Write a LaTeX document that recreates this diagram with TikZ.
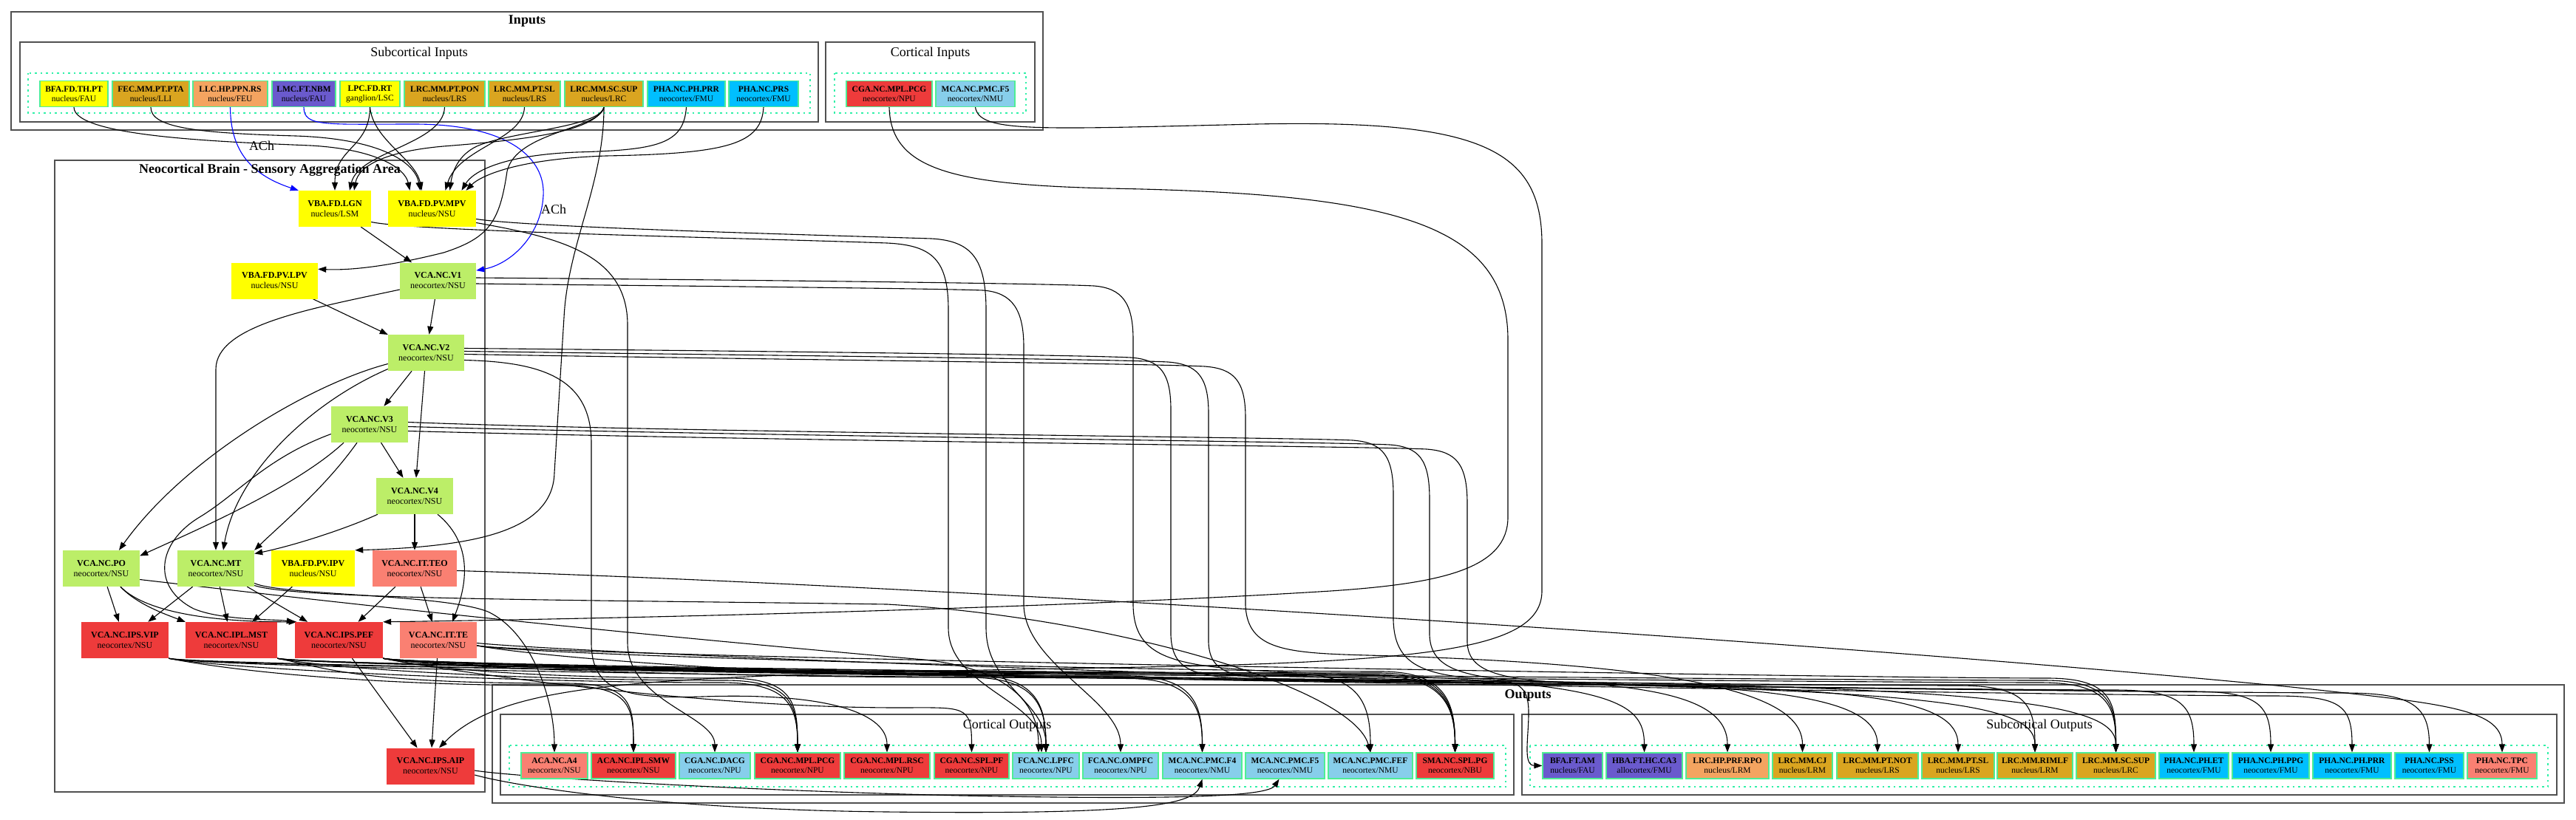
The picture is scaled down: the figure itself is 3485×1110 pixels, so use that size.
\documentclass[tikz,border=0pt]{standalone}
\usepackage{fontspec}
\setmainfont{Liberation Serif}
\usetikzlibrary{arrows.meta}
\definecolor{cyel}{HTML}{FFFF00}
\definecolor{cgold}{HTML}{DAA520}
\definecolor{csandy}{HTML}{F4A460}
\definecolor{cslate}{HTML}{6A5ACD}
\definecolor{cdsky}{HTML}{00BFFF}
\definecolor{csky}{HTML}{87CEEB}
\definecolor{cred}{HTML}{EE3B3B}
\definecolor{csalmon}{HTML}{FA8072}
\definecolor{cgreen}{HTML}{BCEE68}
\definecolor{cborder}{HTML}{4EEE94}
\definecolor{cdot}{HTML}{30F0A8}
\definecolor{cclus}{HTML}{505050}
\pgfdeclarelayer{bg}
\pgfdeclarelayer{edgelayer}
\pgfsetlayers{bg,edgelayer,main}
\newcommand\bnd[5]{\draw[cnx] (#1.#2) .. controls +(70,14) and +(-280,0) .. (#4,#5) .. controls +(90,0) and +(0,-65) .. (#3.north);}
\begin{document}
\begin{tikzpicture}[x=1pt,y=-1pt,
  io/.style={rectangle, draw=cborder, line width=1.3pt, minimum height=35pt, inner xsep=0.5pt, inner ysep=1pt, align=center, font=\fontsize{11.5}{13}\selectfont},
  nc/.style={rectangle, draw=none, minimum height=49pt, inner sep=1pt, align=center, font=\fontsize{12}{14}\selectfont},
  clus/.style={draw=cclus, line width=1.4pt},
  clus2/.style={draw=cclus, line width=2pt},
  dotbox/.style={draw=cdot, line width=1.4pt, dash pattern=on 2.5pt off 5pt},
  ttlb/.style={font=\fontsize{18}{20}\selectfont\bfseries, inner sep=1pt},
  ttlr/.style={font=\fontsize{18}{20}\selectfont, inner sep=1pt},
  cnx/.style={draw=black, line width=1.1pt, -{Triangle[length=11pt,width=8pt]}},
  acnx/.style={cnx, draw=blue}
]
\useasboundingbox (0,0) rectangle (3485,1110);
\begin{pgfonlayer}{bg}
\fill[white] (0,0) rectangle (3485,1110);
\draw[clus2] (15,16) rectangle (1411,176);
\draw[clus] (27,57) rectangle (1107,165);
\draw[dotbox] (38,99) rectangle (1096,153);
\draw[clus] (1117,57) rectangle (1400,165);
\draw[dotbox] (1129,99) rectangle (1388,153);
\draw[clus] (74,217) rectangle (656,1072);
\draw[clus] (666,927) rectangle (3469,1087);
\draw[clus2] (677,967) rectangle (2048,1076);
\draw[dotbox] (689,1009) rectangle (2037,1065);
\draw[clus2] (2059,967) rectangle (3459,1076);
\draw[dotbox] (2070,1009) rectangle (3447,1065);
\end{pgfonlayer}

% titles
\node[ttlb] (t_inputs) at (713,29) {Inputs};
\node[ttlr] (t_subin) at (567,72) {Subcortical Inputs};
\node[ttlr] (t_corin) at (1258.5,72) {Cortical Inputs};
\node[ttlb] (t_neo) at (365,230) {Neocortical Brain - Sensory Aggregation Area};
\node[ttlb] (t_out) at (2067,941) {Outputs};
\node[ttlr] (t_corout) at (1362.5,982) {Cortical Outputs};
\node[ttlr] (t_subout) at (2759,982) {Subcortical Outputs};
\node[ttlr] (ach1) at (354,197) {ACh};
\node[ttlr] (ach2) at (749,283) {ACh};

% input nodes
\node[io,fill=cyel,minimum width=92pt] (in_bfa) at (100,127) {\textbf{BFA.FD.TH.PT}\\nucleus/FAU};
\node[io,fill=cgold,minimum width=104pt] (in_fec) at (204,127) {\textbf{FEC.MM.PT.PTA}\\nucleus/LLI};
\node[io,fill=csandy,minimum width=101pt] (in_llc) at (311.5,127) {\textbf{LLC.HP.PPN.RS}\\nucleus/FEU};
\node[io,fill=cslate,minimum width=86pt] (in_lmc) at (411,127) {\textbf{LMC.FT.NBM}\\nucleus/FAU};
\node[io,fill=cyel,minimum width=81pt] (in_lpc) at (500.5,127) {\textbf{LPC.FD.RT}\\ganglion/LSC};
\node[io,fill=cgold,minimum width=109pt] (in_pon) at (601.5,127) {\textbf{LRC.MM.PT.PON}\\nucleus/LRS};
\node[io,fill=cgold,minimum width=97pt] (in_sl) at (709.5,127) {\textbf{LRC.MM.PT.SL}\\nucleus/LRS};
\node[io,fill=cgold,minimum width=106pt] (in_sup) at (817,127) {\textbf{LRC.MM.SC.SUP}\\nucleus/LRC};
\node[io,fill=cdsky,minimum width=105pt] (in_prr) at (928.5,127) {\textbf{PHA.NC.PH.PRR}\\neocortex/FMU};
\node[io,fill=cdsky,minimum width=94pt] (in_prs) at (1033,127) {\textbf{PHA.NC.PRS}\\neocortex/FMU};
\node[io,fill=cred,minimum width=116pt] (in_pcg) at (1203,127) {\textbf{CGA.NC.MPL.PCG}\\neocortex/NPU};
\node[io,fill=csky,minimum width=107pt] (in_f5) at (1319.5,127) {\textbf{MCA.NC.PMC.F5}\\neocortex/NMU};

% neocortical nodes
\node[nc,fill=cyel,minimum width=98pt] (lgn) at (453,282.5) {\textbf{VBA.FD.LGN}\\nucleus/LSM};
\node[nc,fill=cyel,minimum width=119pt] (mpv) at (584.5,282.5) {\textbf{VBA.FD.PV.MPV}\\nucleus/NSU};
\node[nc,fill=cyel,minimum width=117pt] (lpv) at (371.5,380) {\textbf{VBA.FD.PV.LPV}\\nucleus/NSU};
\node[nc,fill=cgreen,minimum width=103pt] (v1) at (592.5,380) {\textbf{VCA.NC.V1}\\neocortex/NSU};
\node[nc,fill=cgreen,minimum width=103pt] (v2) at (576.5,477.5) {\textbf{VCA.NC.V2}\\neocortex/NSU};
\node[nc,fill=cgreen,minimum width=104pt] (v3) at (500,574.5) {\textbf{VCA.NC.V3}\\neocortex/NSU};
\node[nc,fill=cgreen,minimum width=104pt] (v4) at (561,671.5) {\textbf{VCA.NC.V4}\\neocortex/NSU};
\node[nc,fill=cgreen,minimum width=104pt] (po) at (137,769.5) {\textbf{VCA.NC.PO}\\neocortex/NSU};
\node[nc,fill=cgreen,minimum width=104pt] (mt) at (292,769.5) {\textbf{VCA.NC.MT}\\neocortex/NSU};
\node[nc,fill=cyel,minimum width=113pt] (ipv) at (423.5,769.5) {\textbf{VBA.FD.PV.IPV}\\nucleus/NSU};
\node[nc,fill=csalmon,minimum width=114pt] (teo) at (561,769.5) {\textbf{VCA.NC.IT.TEO}\\neocortex/NSU};
\node[nc,fill=cred,minimum width=118pt] (vip) at (169,866.5) {\textbf{VCA.NC.IPS.VIP}\\neocortex/NSU};
\node[nc,fill=cred,minimum width=124pt] (mst) at (313,866.5) {\textbf{VCA.NC.IPL.MST}\\neocortex/NSU};
\node[nc,fill=cred,minimum width=119pt] (pef) at (458.5,866.5) {\textbf{VCA.NC.IPS.PEF}\\neocortex/NSU};
\node[nc,fill=csalmon,minimum width=104pt] (te) at (593,866.5) {\textbf{VCA.NC.IT.TE}\\neocortex/NSU};
\node[nc,fill=cred,minimum width=119pt] (aip) at (582.5,1037) {\textbf{VCA.NC.IPS.AIP}\\neocortex/NSU};

% cortical outputs
\node[io,fill=csalmon,minimum width=90pt] (o_a4) at (750,1036.5) {\textbf{ACA.NC.A4}\\neocortex/NSU};
\node[io,fill=cred,minimum width=114pt] (o_smw) at (857,1036.5) {\textbf{ACA.NC.IPL.SMW}\\neocortex/NSU};
\node[io,fill=csky,minimum width=96pt] (o_dacg) at (967,1036.5) {\textbf{CGA.NC.DACG}\\neocortex/NPU};
\node[io,fill=cred,minimum width=116pt] (o_pcg) at (1079,1036.5) {\textbf{CGA.NC.MPL.PCG}\\neocortex/NPU};
\node[io,fill=cred,minimum width=116pt] (o_rsc) at (1200,1036.5) {\textbf{CGA.NC.MPL.RSC}\\neocortex/NPU};
\node[io,fill=cred,minimum width=101pt] (o_pf) at (1314.5,1036.5) {\textbf{CGA.NC.SPL.PF}\\neocortex/NPU};
\node[io,fill=csky,minimum width=90pt] (o_lpfc) at (1415,1036.5) {\textbf{FCA.NC.LPFC}\\neocortex/NPU};
\node[io,fill=csky,minimum width=102pt] (o_ompfc) at (1516,1036.5) {\textbf{FCA.NC.OMPFC}\\neocortex/NPU};
\node[io,fill=csky,minimum width=107pt] (o_f4) at (1626.5,1036.5) {\textbf{MCA.NC.PMC.F4}\\neocortex/NMU};
\node[io,fill=csky,minimum width=107pt] (o_f5) at (1738.5,1036.5) {\textbf{MCA.NC.PMC.F5}\\neocortex/NMU};
\node[io,fill=csky,minimum width=114pt] (o_fef) at (1854,1036.5) {\textbf{MCA.NC.PMC.FEF}\\neocortex/NMU};
\node[io,fill=cred,minimum width=105pt] (o_pg) at (1968.5,1036.5) {\textbf{SMA.NC.SPL.PG}\\neocortex/NBU};

% subcortical outputs
\node[io,fill=cslate,minimum width=81pt] (o_am) at (2127.5,1036.5) {\textbf{BFA.FT.AM}\\nucleus/FAU};
\node[io,fill=cslate,minimum width=103pt] (o_ca3) at (2224.5,1036.5) {\textbf{HBA.FT.HC.CA3}\\allocortex/FMU};
\node[io,fill=csandy,minimum width=112pt] (o_rpo) at (2337,1036.5) {\textbf{LRC.HP.PRF.RPO}\\nucleus/LRM};
\node[io,fill=cgold,minimum width=81pt] (o_cj) at (2438.5,1036.5) {\textbf{LRC.MM.CJ}\\nucleus/LRM};
\node[io,fill=cgold,minimum width=110pt] (o_not) at (2540,1036.5) {\textbf{LRC.MM.PT.NOT}\\nucleus/LRS};
\node[io,fill=cgold,minimum width=98pt] (o_sl) at (2649,1036.5) {\textbf{LRC.MM.PT.SL}\\nucleus/LRS};
\node[io,fill=cgold,minimum width=102pt] (o_rimlf) at (2753,1036.5) {\textbf{LRC.MM.RIMLF}\\nucleus/LRM};
\node[io,fill=cgold,minimum width=107pt] (o_sup) at (2862.5,1036.5) {\textbf{LRC.MM.SC.SUP}\\nucleus/LRC};
\node[io,fill=cdsky,minimum width=94pt] (o_et) at (2968,1036.5) {\textbf{PHA.NC.PH.ET}\\neocortex/FMU};
\node[io,fill=cdsky,minimum width=104pt] (o_ppg) at (3072,1036.5) {\textbf{PHA.NC.PH.PPG}\\neocortex/FMU};
\node[io,fill=cdsky,minimum width=106pt] (o_prr) at (3182,1036.5) {\textbf{PHA.NC.PH.PRR}\\neocortex/FMU};
\node[io,fill=cdsky,minimum width=93pt] (o_pss) at (3286.5,1036.5) {\textbf{PHA.NC.PSS}\\neocortex/FMU};
\node[io,fill=csalmon,minimum width=94pt] (o_tpc) at (3385,1036.5) {\textbf{PHA.NC.TPC}\\neocortex/FMU};

\begin{pgfonlayer}{edgelayer}
% input edges
\draw[cnx] (in_bfa.south) .. controls (100,185) and (300,192) .. (420,197) .. controls (510,202) and (548,228) .. ([xshift=-30pt]mpv.north);
\draw[cnx] (in_fec.south) .. controls (204,172) and (260,180) .. (400,184) .. controls (520,188) and (562,222) .. ([xshift=-16pt]mpv.north);
\draw[acnx] (in_llc.south) .. controls (312,200) and (335,235) .. (lgn.north west);
\draw[acnx] (in_lmc.south) .. controls (411,172) and (440,168) .. (560,168) .. controls (690,168) and (738,215) .. (735,265) .. controls (732,320) and (690,358) .. (v1.15);
\draw[cnx] (in_lpc.south) .. controls (500,200) and (453,200) .. (lgn.north);
\draw[cnx] (in_lpc.south) .. controls (505,190) and (562,215) .. ([xshift=-14pt]mpv.north);
\draw[cnx] (in_pon.south) .. controls (600,195) and (485,205) .. ([xshift=20pt]lgn.north);
\draw[cnx] (in_sl.south) .. controls (708,190) and (620,200) .. ([xshift=18pt]mpv.north);
\draw[cnx] (in_sup.south) .. controls (805,180) and (700,190) .. (600,198) .. controls (520,205) and (485,225) .. ([xshift=26pt]lgn.north);
\draw[cnx] (in_sup.south) .. controls (812,172) and (690,178) .. (645,198) .. controls (620,210) and (612,232) .. ([xshift=24pt]mpv.north);
\draw[cnx] (in_sup.south) .. controls (812,175) and (698,178) .. (686,232) .. controls (676,300) and (662,322) .. (600,342) .. controls (520,362) and (470,366) .. (lpv.15);
\draw[cnx] (in_sup.south) .. controls (817,250) and (768,330) .. (763,430) -- (750,640) .. controls (748,720) and (640,740) .. (ipv.north east);
\draw[cnx] (in_prr.south) .. controls (925,195) and (890,203) .. (780,206) .. controls (680,210) and (640,232) .. ([xshift=40pt]mpv.north);
\draw[cnx] (in_prs.south) .. controls (1030,195) and (985,208) .. (820,211) .. controls (700,215) and (650,238) .. ([xshift=46pt]mpv.north);
\draw[cnx] (in_pcg.south) .. controls (1205,230) and (1290,250) .. (1500,255) .. controls (1880,262) and (2040,300) .. (2040,460) -- (2040,700) .. controls (2040,770) and (1950,790) .. (1800,800) .. controls (1400,825) and (800,838) .. (pef.north east);
\draw[cnx] (in_f5.south) .. controls (1325,180) and (1400,175) .. (1700,168) .. controls (2000,162) and (2086,200) .. (2086,330) -- (2086,800) .. controls (2086,875) and (1950,893) .. (1600,902) .. controls (900,915) and (690,915) .. (aip.65);

% internal straight edges
\draw[cnx] (lgn) -- (v1);
\draw[cnx] (v1) -- (v2);
\draw[cnx] (lpv) -- (v2);
\draw[cnx] (v2) -- (v3);
\draw[cnx] (v2) -- (v4);
\draw[cnx] (v3) -- (v4);
\draw[cnx] (v4) -- (teo);
\draw[cnx] (po) -- (vip);
\draw[cnx] (mt) -- (vip);
\draw[cnx] (mt) -- (mst);
\draw[cnx] (mt) -- (pef);
\draw[cnx] (ipv) -- (mst);
\draw[cnx] (teo) -- (pef);
\draw[cnx] (teo) -- (te);
\draw[cnx] (pef) -- (aip);
\draw[cnx] (te) -- (aip);

% internal curved edges
\draw[cnx] ([yshift=-12pt]v1.west) .. controls (420,418) and (292,440) .. (292,500) -- (mt.north);
\draw[cnx] ([yshift=-15pt]v2.west) .. controls (420,520) and (250,620) .. ([xshift=24pt]po.north);
\draw[cnx] ([yshift=-22pt]v2.west) .. controls (420,545) and (320,640) .. ([xshift=10pt]mt.north);
\draw[cnx] ([yshift=-13pt]v3.west) .. controls (360,620) and (320,670) .. (270,700) .. controls (212,735) and (205,795) .. (262,824) .. controls (300,840) and (370,838) .. (pef.north west);
\draw[cnx] ([xshift=-35pt]v3.south) .. controls (400,660) and (260,720) .. ([yshift=17pt]po.east);
\draw[cnx] ([xshift=-17pt]v3.south) .. controls (440,660) and (380,710) .. (mt.north east);
\draw[cnx] ([xshift=-50pt]v4.south) .. controls (470,715) and (400,738) .. ([yshift=20pt]mt.east);
\draw[cnx] ([xshift=31pt]v4.south) .. controls (645,740) and (628,800) .. ([xshift=19pt]te.north);
\draw[cnx] ([xshift=26pt]po.south) .. controls (185,818) and (225,832) .. (mst.north west);
\draw[cnx] ([xshift=26pt]po.south) .. controls (200,832) and (300,842) .. ([xshift=-57pt]pef.north);

% long edges with vertical drops (smoother corners)
\draw[cnx] ([yshift=-18pt]lgn.east) .. controls (560,313) and (1000,322) .. (1200,329) .. controls (1262,332) and (1283,352) .. (1283,420) -- (1283,850) .. controls (1283,930) and +(0,-70) .. ([xshift=-6pt]o_lpfc.north);
\draw[cnx] ([yshift=-14pt]mpv.east) .. controls (720,308) and (1100,318) .. (1260,323) .. controls (1314,326) and (1334,350) .. (1334,420) -- (1334,850) .. controls (1334,930) and +(0,-70) .. (o_lpfc.north);
\draw[cnx] ([yshift=-19pt]mpv.east) .. controls (760,322) and (849,345) .. (849,440) -- (849,870) .. controls (849,950) and +(0,-50) .. (o_dacg.north);
\draw[cnx] ([yshift=-10pt]v2.east) .. controls (730,490) and (800,510) .. (800,600) -- (800,870) .. controls (800,938) and (850,946) .. (950,943) .. controls (1130,937) and +(0,-50) .. (o_rsc.north);
\draw[cnx] ([yshift=-4pt]v1.east) .. controls (800,386) and (1250,390) .. (1330,393) .. controls (1370,396) and (1385,420) .. (1385,470) -- (1385,820) .. controls (1388,900) and +(0,-70) .. (o_ompfc.north);
\draw[cnx] ([yshift=4pt]v1.east) .. controls (900,378) and (1400,383) .. (1480,387) .. controls (1518,390) and (1533,410) .. (1533,460) -- (1533,820) .. controls (1535,900) and (1600,905) .. (1800,912) .. controls (2180,922) and +(0,-70) .. (o_ca3.north);
\draw[cnx] ([yshift=6pt]v2.east) .. controls (900,474) and (1450,480) .. (1530,484) .. controls (1570,487) and (1584,505) .. (1584,555) -- (1584,860) .. controls (1586,912) and (1620,918) .. (1720,919) .. controls (2700,925) and +(0,-70) .. (o_sup.north);
\draw[cnx] ([yshift=2pt]v2.east) .. controls (950,480) and (1500,486) .. (1580,490) .. controls (1620,493) and (1635,510) .. (1635,560) -- (1635,870) .. controls (1637,914) and (1670,918) .. (1760,920) .. controls (2600,930) and +(0,-70) .. (o_rimlf.north);
\draw[cnx] ([yshift=-2pt]v2.east) .. controls (1000,486) and (1550,492) .. (1630,496) .. controls (1670,499) and (1685,516) .. (1685,566) -- (1685,820) .. controls (1688,880) and (1740,884) .. (1850,887) .. controls (2330,900) and +(0,-70) .. (o_cj.north);
\draw[cnx] ([yshift=3pt]v3.east) .. controls (900,585) and (1750,592) .. (1830,596) .. controls (1870,599) and (1885,616) .. (1885,670) -- (1885,840) .. controls (1887,905) and (1930,918) .. (2050,921) .. controls (2250,926) and +(0,-70) .. (o_rpo.north);
\draw[cnx] ([yshift=-3pt]v3.east) .. controls (1000,590) and (1800,598) .. (1880,602) .. controls (1920,605) and (1934,622) .. (1934,676) -- (1934,860) .. controls (1936,912) and (1990,922) .. (2150,925) .. controls (2420,930) and +(0,-70) .. (o_not.north);
\draw[cnx] ([yshift=-9pt]v3.east) .. controls (1100,598) and (1850,604) .. (1930,608) .. controls (1970,611) and (1985,628) .. (1985,682) -- (1985,870) .. controls (1987,915) and (2040,924) .. (2200,927) .. controls (2530,932) and +(0,-70) .. (o_sl.north);

% other long edges
\draw[cnx] ([yshift=-20pt]mt.east) .. controls (380,806) and (600,804) .. (660,828) .. controls (720,856) and +(0,-70) .. (o_a4.north);
\draw[cnx] ([yshift=-23pt]mt.east) .. controls (400,812) and (800,812) .. (1200,818) .. controls (1500,835) and (1830,930) .. (o_fef.north);
\draw[cnx] ([yshift=-15pt]po.east) .. controls (350,803) and (700,845) .. (1250,893) .. controls (1360,905) and +(0,-70) .. ([xshift=-10pt]o_lpfc.north);
\draw[cnx] ([yshift=-3pt]teo.east) .. controls (1200,790) and (2400,862) .. (3100,930) .. controls (3300,952) and +(0,-60) .. (o_tpc.north);
\draw[cnx] ([yshift=-4pt]te.east) .. controls (800,885) and (1700,918) .. (2030,922) .. controls (2062,923) and (2068,940) .. (2068,965) .. controls (2068,1000) and (2060,1036) .. (o_am.west);
\draw[cnx] ([yshift=-6pt]aip.east) .. controls (700,1052) and (1000,1070) .. (1300,1077) .. controls (1600,1083) and (1715,1078) .. ([xshift=-8pt]o_f5.south);
\draw[cnx] ([yshift=-12pt]aip.east) .. controls (700,1065) and (900,1096) .. (1200,1099) .. controls (1540,1103) and (1615,1090) .. (o_f4.south);

% bundled edges to outputs
\bnd{vip}{south east}{o_smw}{760}{928}
\bnd{vip}{south east}{o_pcg}{975}{924}
\bnd{vip}{south east}{o_f4}{1520}{918}
\bnd{vip}{south east}{o_pg}{1860}{915}
\bnd{vip}{south east}{o_pss}{3170}{938}
\bnd{mst}{south east}{o_smw}{765}{925}
\bnd{mst}{south east}{o_pcg}{980}{921}
\bnd{mst}{south east}{o_pg}{1862}{913}
\bnd{mst}{south east}{o_sup}{2760}{924}
\bnd{mst}{south east}{o_rimlf}{2650}{928}
\bnd{mst}{south east}{o_et}{2860}{934}
\bnd{pef}{south east}{o_pcg}{985}{918}
\bnd{pef}{south east}{o_pf}{1215}{958}
\bnd{pef}{south east}{o_lpfc}{1310}{917}
\bnd{pef}{south east}{o_f4}{1525}{915}
\bnd{pef}{south east}{o_fef}{1750}{912}
\bnd{pef}{south east}{o_pg}{1865}{911}
\bnd{pef}{south east}{o_sup}{2765}{921}
\bnd{pef}{south east}{o_ppg}{2965}{936}
\bnd{pef}{south east}{o_prr}{3075}{942}
\bnd{te}{-8}{o_lpfc}{1312}{914}
\bnd{te}{-8}{o_pg}{1868}{909}
\bnd{te}{-8}{o_sup}{2770}{918}
\end{pgfonlayer}
\end{tikzpicture}
\end{document}
